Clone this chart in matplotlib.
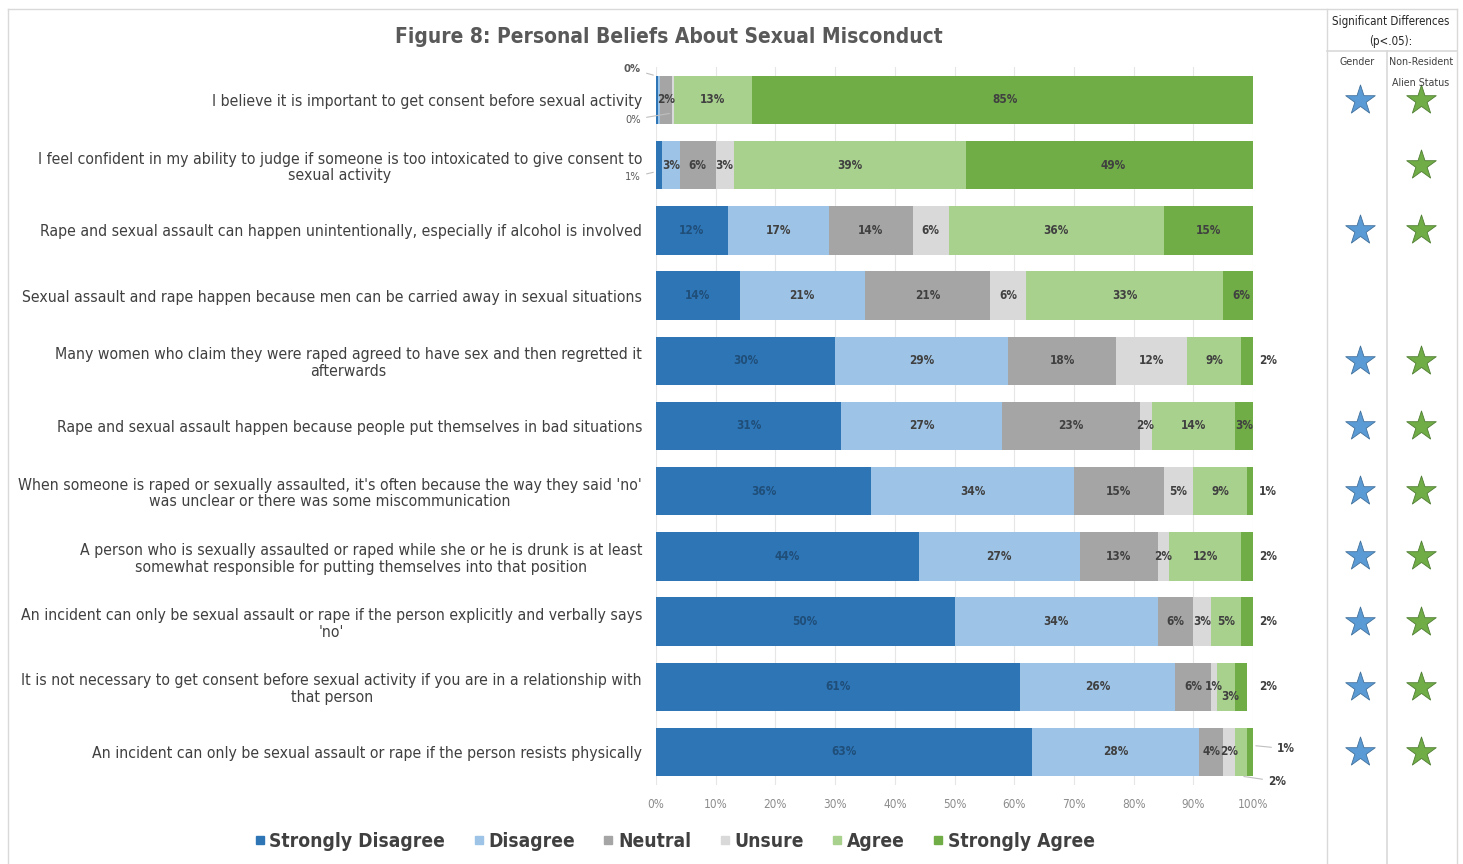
import matplotlib.pyplot as plt
import numpy as np
from matplotlib.lines import Line2D

# survey statements, top to bottom
statements = [
    'I believe it is important to get consent before sexual activity',
    'I feel confident in my ability to judge if someone is too intoxicated to give consent to\nsexual activity',
    'Rape and sexual assault can happen unintentionally, especially if alcohol is involved',
    'Sexual assault and rape happen because men can be carried away in sexual situations',
    'Many women who claim they were raped agreed to have sex and then regretted it\nafterwards',
    'Rape and sexual assault happen because people put themselves in bad situations',
    "When someone is raped or sexually assaulted, it's often because the way they said 'no'\nwas unclear or there was some miscommunication",
    'A person who is sexually assaulted or raped while she or he is drunk is at least\nsomewhat responsible for putting themselves into that position',
    "An incident can only be sexual assault or rape if the person explicitly and verbally says\n'no'",
    'It is not necessary to get consent before sexual activity if you are in a relationship with\nthat person',
    'An incident can only be sexual assault or rape if the person resists physically',
]

categories = ['Strongly Disagree', 'Disagree', 'Neutral', 'Unsure', 'Agree', 'Strongly Agree']
strongly_disagree = [0.3, 1, 12, 14, 30, 31, 36, 44, 50, 61, 63]
disagree = [0.4, 3, 17, 21, 29, 27, 34, 27, 34, 26, 28]
neutral = [2, 6, 14, 21, 18, 23, 15, 13, 6, 6, 4]
unsure = [0.3, 3, 6, 6, 12, 2, 5, 2, 3, 1, 2]
agree = [13, 39, 36, 33, 9, 14, 9, 12, 5, 3, 2]
strongly_agree = [85, 49, 15, 6, 2, 3, 1, 2, 2, 2, 1]

# significant differences (p<.05)
sig_gender = [1, 0, 1, 0, 1, 1, 1, 1, 1, 1, 1]
sig_nra = [1, 1, 1, 0, 1, 1, 1, 1, 1, 1, 1]

colors = ['#2e75b6', '#9dc3e6', '#a5a5a5', '#d9d9d9', '#a9d18e', '#70ad47']

plt.rcParams['font.family'] = ['DejaVu Sans']
plt.rcParams['font.stretch'] = 'condensed'

data = np.array([strongly_disagree, disagree, neutral, unsure, agree, strongly_agree])
n = len(statements)
y = np.arange(n)

fig = plt.figure(figsize=(14.63, 8.64), dpi=100)
ax = fig.add_axes([0.4484, 0.0919, 0.4081, 0.8301])

lead = dict(arrowstyle='-', color='#bfbfbf', lw=0.8)
left = np.zeros(n)
for k, (cat, col) in enumerate(zip(categories, colors)):
    ax.barh(y, data[k], left=left, height=0.74, color=col, label=cat, zorder=2)
    for i in range(n):
        v = data[k, i]
        pct = '{:.0f}%'.format(v)
        xc = left[i] + v / 2
        tc = '#1f4e79' if k == 0 else '#404040'
        lab = dict(fontsize=8.5, fontweight='bold', color='#404040', va='center')
        if k == 5 and v <= 2:
            # tiny end segments labelled to the right of the bar
            if i == n - 1:
                ax.annotate(pct, xy=(left[i] + v, i - 0.1), xytext=(104, i - 0.05),
                            arrowprops=lead, **lab)
            else:
                ax.text(101, i, pct, **lab)
            continue
        if i == n - 1 and k == 4:
            ax.annotate(pct, xy=(left[i] + v / 2, i + 0.37), xytext=(102.5, i + 0.45),
                        arrowprops=lead, **lab)
            continue
        if v < 0.5:
            # rounded-to-zero slivers
            if k == 0:
                ax.annotate(pct, xy=(left[i], i - 0.37), xytext=(-2.5, i - 0.47), fontsize=8,
                            fontweight='bold', color='#595959', ha='right', va='center',
                            arrowprops=lead)
            elif k == 3:
                ax.annotate(pct, xy=(left[i], i + 0.2), xytext=(-2.5, i + 0.3), fontsize=8,
                            color='#595959', ha='right', va='center', arrowprops=lead)
            continue
        if k == 0 and v < 2:
            ax.annotate(pct, xy=(left[i], i + 0.1), xytext=(-2.5, i + 0.18), fontsize=8,
                        color='#595959', ha='right', va='center', arrowprops=lead)
            continue
        yc = i
        if k == 4 and 0.5 <= data[3, i] < 1.5:
            # keep clear of the narrow "Unsure" label
            yc = i + 0.15
            xc = xc + 0.6
        ax.text(xc, yc, pct, ha='center', va='center', fontsize=8.5, fontweight='bold', color=tc)
    left += data[k]

ax.set_xlim(0, 100)
ax.set_ylim(n - 0.5, -0.5)
ax.set_xticks(np.arange(0, 101, 10))
ax.set_xticklabels(['{}%'.format(t) for t in range(0, 101, 10)])
ax.set_yticks(y)
ax.set_yticklabels(statements, fontsize=11.3, color='#404040', linespacing=1.15,
                   multialignment='center')
ax.tick_params(axis='both', length=0)
ax.tick_params(axis='x', labelsize=8.5, labelcolor='#8c8c8c', pad=10)
ax.tick_params(axis='y', pad=10)
ax.grid(axis='x', color='#e6e6e6', lw=0.8, zorder=0)
for s in ax.spines.values():
    s.set_visible(False)

fig.text(0.457, 0.957, 'Figure 8: Personal Beliefs About Sexual Misconduct', ha='center', va='center',
         fontsize=15, fontweight='bold', color='#595959')

handles = [Line2D([], [], marker='s', ls='', color=c, markersize=5.5) for c in colors]
fig.legend(handles, categories, loc='center', bbox_to_anchor=(0.458, 0.026), ncol=6, frameon=False,
           handletextpad=-0.25, columnspacing=1.0, handlelength=1.5,
           prop={'size': 13.8, 'weight': 'bold', 'stretch': 'condensed'}, labelcolor='#404040')

# significance table on the right
tab = fig.add_axes([1327 / 1463, 0.0919, 130 / 1463, 0.8301])
tab.set_xlim(0, 2)
tab.set_ylim(n - 0.5, -0.5)
tab.axis('off')
for i in range(n):
    if sig_gender[i]:
        tab.scatter(0.51, i, marker='*', s=500, color='#5b9bd5', edgecolors='#41719c', linewidths=0.6)
    if sig_nra[i]:
        tab.scatter(1.45, i, marker='*', s=500, color='#70ad47', edgecolors='#507e32', linewidths=0.6)

# borders
line_col = '#d9d9d9'
H = 864.0
W = 1463.0
fig.add_artist(Line2D([8 / W, 8 / W], [0, 1 - 9 / H], color=line_col, lw=1))
fig.add_artist(Line2D([8 / W, 1457 / W], [1 - 9 / H, 1 - 9 / H], color=line_col, lw=1))
fig.add_artist(Line2D([1327 / W, 1327 / W], [0, 1 - 9 / H], color=line_col, lw=1))
fig.add_artist(Line2D([1457 / W, 1457 / W], [0, 1 - 9 / H], color=line_col, lw=1))
fig.add_artist(Line2D([1327 / W, 1457 / W], [1 - 51 / H, 1 - 51 / H], color=line_col, lw=1.2))
fig.add_artist(Line2D([1387 / W, 1387 / W], [0, 1 - 51 / H], color=line_col, lw=1.2))

hdr = dict(ha='center', va='center', fontsize=8.3, color='#262626')
fig.text(1391 / W, 1 - 21 / H, 'Significant Differences', **hdr)
fig.text(1391 / W, 1 - 42 / H, '(p<.05):', **hdr)
sub = dict(hdr, fontsize=7.7, color='#404040')
fig.text(1357 / W, 1 - 62 / H, 'Gender', **sub)
fig.text(1421 / W, 1 - 62 / H, 'Non-Resident', **sub)
fig.text(1421 / W, 1 - 83 / H, 'Alien Status', **sub)

fig.savefig('out.png', dpi=100)
